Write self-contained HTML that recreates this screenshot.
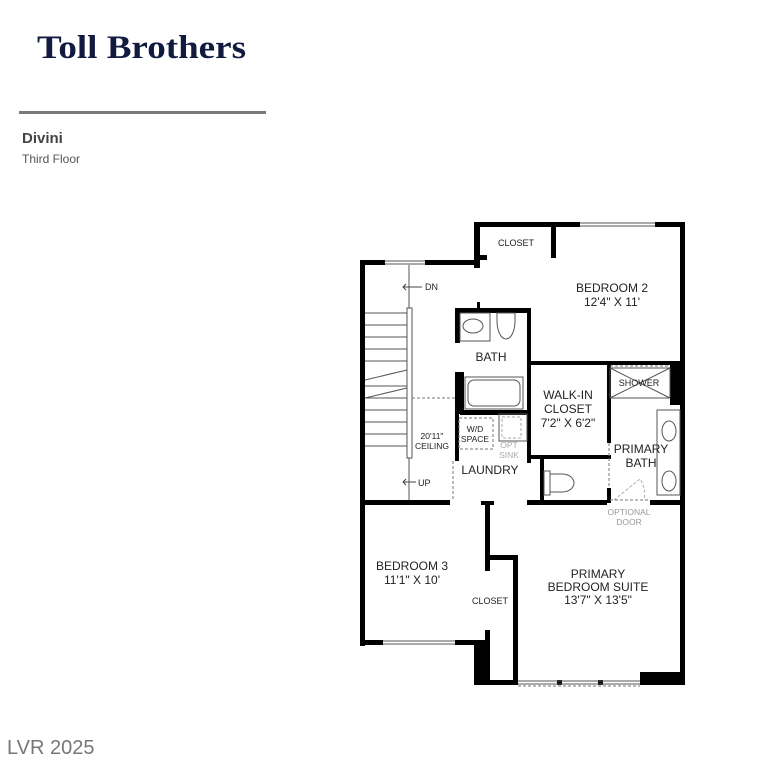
<!DOCTYPE html>
<html><head><meta charset="utf-8"><style>
body{margin:0;background:#fff;width:758px;height:768px;overflow:hidden;font-family:"Liberation Sans",sans-serif}
</style></head><body>
<svg width="758" height="768" xmlns="http://www.w3.org/2000/svg" style="position:absolute;left:0;top:0">
<text x="37" y="58" font-family="Liberation Serif,serif" font-size="33" font-weight="bold" fill="#111a3f" textLength="209" lengthAdjust="spacingAndGlyphs">Toll Brothers</text>
<rect x="19" y="111" width="247" height="3" fill="#7a7a7a"/>
<text x="22" y="143" font-size="15" font-weight="bold" fill="#444">Divini</text>
<text x="22" y="163" font-size="12" fill="#555">Third Floor</text>
<text x="7" y="754" font-size="20" fill="#777">LVR 2025</text>

<g fill="#000">
<rect x="360" y="260" width="5" height="386"/>
<rect x="360" y="260" width="25" height="5"/>
<rect x="425" y="260" width="55" height="5"/>
<rect x="474" y="222" width="6" height="46"/>
<rect x="474" y="222" width="106" height="5"/>
<rect x="655" y="222" width="30" height="5"/>
<rect x="680" y="222" width="5" height="463"/>
<rect x="551" y="227" width="5" height="31"/>
<rect x="480" y="255" width="7" height="5"/>
<rect x="455" y="308" width="75" height="5"/>
<rect x="477" y="302" width="3" height="8"/>
<rect x="455" y="308" width="5" height="35"/>
<rect x="527" y="308" width="4" height="155"/>
<rect x="455" y="372" width="9" height="42"/>
<rect x="460" y="410" width="70" height="5"/>
<rect x="527" y="361" width="157" height="4"/>
<rect x="455" y="414" width="4" height="47"/>
<rect x="527" y="455" width="84" height="4"/>
<rect x="607" y="363" width="4" height="80"/>
<rect x="607" y="488" width="4" height="15"/>
<rect x="670" y="363" width="14" height="42"/>
<rect x="540" y="455" width="4" height="50"/>
<rect x="360" y="500" width="90" height="5"/>
<rect x="481" y="501" width="13" height="4"/>
<rect x="485" y="501" width="5" height="70"/>
<rect x="527" y="500" width="80" height="5"/>
<rect x="650" y="500" width="34" height="5"/>
<rect x="360" y="640" width="23" height="5"/>
<rect x="455" y="640" width="35" height="5"/>
<rect x="485" y="630" width="5" height="55"/>
<rect x="474" y="645" width="16" height="40"/>
<rect x="487" y="555" width="30" height="5"/>
<rect x="513" y="555" width="5" height="130"/>
<rect x="474" y="680" width="44" height="5"/>
<rect x="640" y="672" width="44" height="13"/>
<rect x="557" y="680" width="5" height="5"/>
<rect x="598" y="680" width="5" height="5"/>
</g>
<g fill="none" stroke="#555" stroke-width="1">
<line x1="385" y1="261" x2="425" y2="261"/><line x1="385" y1="264" x2="425" y2="264"/>
<line x1="580" y1="223" x2="655" y2="223"/><line x1="580" y1="226" x2="655" y2="226"/>
<line x1="383" y1="641" x2="455" y2="641"/><line x1="383" y1="644" x2="455" y2="644"/>
<line x1="518" y1="681" x2="640" y2="681"/><line x1="518" y1="684" x2="640" y2="684"/>
<line x1="409" y1="265" x2="409" y2="500"/>
<rect x="407" y="308" width="5" height="150" fill="#fff"/>
<line x1="365" y1="313" x2="407" y2="313"/><line x1="365" y1="325" x2="407" y2="325"/>
<line x1="365" y1="337" x2="407" y2="337"/><line x1="365" y1="349" x2="407" y2="349"/>
<line x1="365" y1="361" x2="407" y2="361"/>
<line x1="365" y1="386" x2="407" y2="386"/>
<line x1="365" y1="398" x2="407" y2="398"/><line x1="365" y1="410" x2="407" y2="410"/>
<line x1="365" y1="422" x2="407" y2="422"/><line x1="365" y1="434" x2="407" y2="434"/>
<line x1="365" y1="446" x2="407" y2="446"/>
<line x1="365" y1="380" x2="407" y2="370"/><line x1="365" y1="398" x2="407" y2="388"/>
<rect x="460" y="313" width="30" height="28"/><ellipse cx="473" cy="326" rx="10" ry="7"/>
<path d="M497 313 h18 v8 c0 10 -4 18 -9 18 c-5 0 -9 -8 -9 -18z"/>
<rect x="465" y="377" width="58" height="32"/><rect x="468" y="380" width="52" height="26" rx="6"/>
<rect x="610" y="368" width="60" height="30"/><line x1="610" y1="368" x2="670" y2="398"/><line x1="670" y1="368" x2="610" y2="398"/>
<rect x="657" y="410" width="23" height="85"/>
<ellipse cx="669" cy="431" rx="7" ry="10"/><ellipse cx="669" cy="481" rx="7" ry="10"/>
<path d="M544 471 h6 v24 h-6z"/><path d="M550 474 h12 c8 0 12 5 12 9 c0 4 -4 9 -12 9 h-12z"/>
<rect x="499" y="414" width="28" height="27"/>
</g>
<g fill="none" stroke="#777" stroke-width="1" stroke-dasharray="3,2">
<line x1="412" y1="398" x2="455" y2="398"/>
<rect x="459" y="418" width="34" height="31"/>
<rect x="502" y="417" width="19" height="21" stroke="#aaa"/>
<line x1="453" y1="461" x2="453" y2="500"/>
<line x1="610" y1="366" x2="670" y2="366"/>
<line x1="609" y1="443" x2="609" y2="488"/>
<line x1="610" y1="500" x2="650" y2="500"/>
<path d="M614 500 L640 479 A28 28 0 0 1 644 500" stroke="#aaa"/>
<line x1="518" y1="686" x2="640" y2="686"/>
</g>
<g font-size="11" fill="#222" text-anchor="middle">
<text x="516" y="246" font-size="9">CLOSET</text>
<text x="612" y="292" font-size="12">BEDROOM 2</text>
<text x="612" y="306" font-size="12">12'4" X 11'</text>
<text x="491" y="361" font-size="12">BATH</text>
<text x="568" y="399" font-size="12">WALK-IN</text>
<text x="568" y="413" font-size="12">CLOSET</text>
<text x="568" y="427" font-size="12">7'2" X 6'2"</text>
<text x="639" y="386" font-size="9">SHOWER</text>
<text x="641" y="453" font-size="12">PRIMARY</text>
<text x="641" y="467" font-size="12">BATH</text>
<text x="475" y="432" font-size="8.5">W/D</text>
<text x="475" y="442" font-size="8.5">SPACE</text>
<text x="509" y="448" font-size="8.5" fill="#aaa">OPT</text>
<text x="509" y="458" font-size="8.5" fill="#aaa">SINK</text>
<text x="432" y="439" font-size="8.5">20'11"</text>
<text x="432" y="449" font-size="8.5">CEILING</text>
<text x="490" y="474" font-size="12">LAUNDRY</text>
<text x="629" y="515" font-size="8.5" fill="#999">OPTIONAL</text>
<text x="629" y="525" font-size="8.5" fill="#999">DOOR</text>
<text x="425" y="290" font-size="9" text-anchor="start">DN</text>
<text x="418" y="486" font-size="9" text-anchor="start">UP</text>
<text x="412" y="570" font-size="12">BEDROOM 3</text>
<text x="412" y="584" font-size="12">11'1" X 10'</text>
<text x="490" y="604" font-size="9">CLOSET</text>
<text x="598" y="578" font-size="12">PRIMARY</text>
<text x="598" y="591" font-size="12">BEDROOM SUITE</text>
<text x="598" y="604" font-size="12">13'7" X 13'5"</text>
</g>
<g fill="none" stroke="#444" stroke-width="1">
<path d="M403 287 h19 M406 284 l-3 3 l3 3"/>
<path d="M403 482 h13 M406 479 l-3 3 l3 3"/>
</g>
</svg>
</body></html>
